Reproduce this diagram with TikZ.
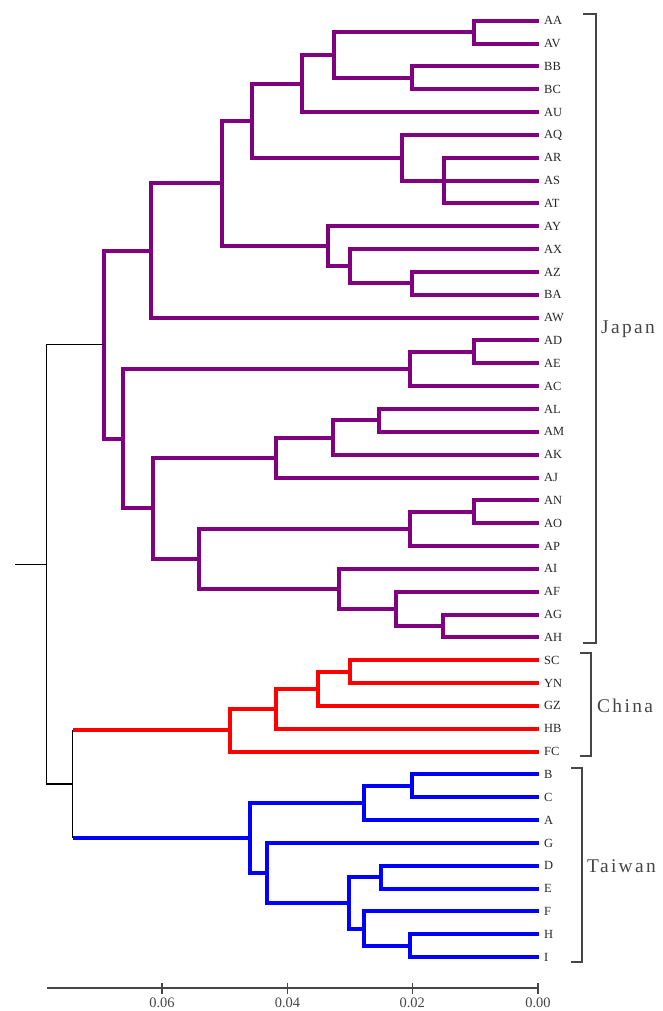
\documentclass[tikz,border=0pt]{standalone}
\usepackage{fontspec}
\setmainfont{Liberation Serif}
\newfontfamily\grpfont[LetterSpace=12]{Liberation Serif}
\definecolor{jpcol}{RGB}{128,0,128}
\definecolor{cncol}{RGB}{255,0,0}
\definecolor{twcol}{RGB}{0,0,255}
\definecolor{inkgray}{RGB}{70,70,70}
\newcommand\yy[1]{20.7+(#1)*22.84}
\tikzset{
  jp/.style={draw=jpcol, line width=4bp},
  cn/.style={draw=cncol, line width=4bp},
  tw/.style={draw=twcol, line width=4bp},
  blk/.style={draw=black, line width=1.5bp},
  brk/.style={draw=inkgray, line width=1.3bp},
  leaflab/.style={anchor=west, inner sep=0pt, text=black!85, font=\fontsize{12.5}{13}\selectfont},
  grplab/.style={anchor=west, inner sep=0pt, text=inkgray, font=\grpfont\fontsize{19.5}{21}\selectfont},
  ticklab/.style={anchor=center, inner sep=0pt, text=inkgray, font=\fontsize{14.5}{16}\selectfont}
}
\begin{document}
\begin{tikzpicture}[x=1bp, y=-1bp]
\useasboundingbox (0,0) rectangle (663,1011);
\fill[white] (0,0) rectangle (663,1011);

% leaf tips and labels
\foreach \n [count=\i from 0] in {AA,AV,BB,BC,AU,AQ,AR,AS,AT,AY,AX,AZ,BA,AW,AD,AE,AC,AL,AM,AK,AJ,AN,AO,AP,AI,AF,AG,AH,SC,YN,GZ,HB,FC,B,C,A,G,D,E,F,H,I}{
  \coordinate (t\n) at (539,{\yy{\i}});
  \node[leaflab] (l\n) at (544,{\yy{\i}}) {\n};
}

% internal nodes: Japan
\coordinate (nAAAV) at (474.4,{\yy{0.5}});
\coordinate (nBBBC) at (412.3,{\yy{2.5}});
\coordinate (nA1)   at (334.0,{\yy{1.5}});
\coordinate (nAU)   at (302.3,{\yy{2.75}});
\coordinate (nARAT) at (444.0,{\yy{7}});
\coordinate (nAQ)   at (401.7,{\yy{6}});
\coordinate (nA3)   at (252.4,{\yy{4.375}});
\coordinate (nAZBA) at (412.3,{\yy{11.5}});
\coordinate (nAX)   at (350.0,{\yy{10.75}});
\coordinate (nAY)   at (327.7,{\yy{9.875}});
\coordinate (nA4)   at (222.0,{\yy{7.125}});
\coordinate (nAW)   at (151.0,{\yy{10.0625}});
\coordinate (nADAE) at (474.4,{\yy{14.5}});
\coordinate (nAC)   at (410.0,{\yy{15.25}});
\coordinate (nALAM) at (379.3,{\yy{17.5}});
\coordinate (nAK)   at (332.8,{\yy{18.25}});
\coordinate (nAJ)   at (275.7,{\yy{19.125}});
\coordinate (nANAO) at (474.4,{\yy{21.5}});
\coordinate (nAP)   at (410.0,{\yy{22.25}});
\coordinate (nAGAH) at (443.0,{\yy{26.5}});
\coordinate (nAF)   at (396.2,{\yy{25.75}});
\coordinate (nAI)   at (339.1,{\yy{24.875}});
\coordinate (nA6)   at (198.7,{\yy{23.5625}});
\coordinate (nA7)   at (153.0,{\yy{21.34375}});
\coordinate (nA8)   at (122.6,{\yy{18.296875}});
\coordinate (nJP)   at (103.5,{\yy{14.1796875}});
% China
\coordinate (nSCYN) at (350.0,{\yy{28.5}});
\coordinate (nGZ)   at (318.0,{\yy{29.25}});
\coordinate (nHB)   at (275.7,{\yy{30.125}});
\coordinate (nFC)   at (230.4,{\yy{31.0625}});
% Taiwan
\coordinate (nBC)   at (412.3,{\yy{33.5}});
\coordinate (nA)    at (363.6,{\yy{34.25}});
\coordinate (nDE)   at (380.5,{\yy{37.5}});
\coordinate (nHI)   at (410.0,{\yy{40.5}});
\coordinate (nF)    at (363.6,{\yy{39.75}});
\coordinate (nDF)   at (348.8,{\yy{38.625}});
\coordinate (nG)    at (267.2,{\yy{37.3125}});
\coordinate (nTW)   at (250.3,{\yy{35.78125}});
% China + Taiwan, and the root
\coordinate (nCT)   at (72.7,{(\yy{31.0625}+\yy{35.78125})/2});
\coordinate (cCN)   at (nCT |- nFC);
\coordinate (cTW)   at (nCT |- nTW);
\coordinate (root)  at (46.5,{(\yy{14.1796875}+(\yy{31.0625}+\yy{35.78125})/2)/2});
\coordinate (rstub) at (15,0 |- root);

% Japan clade
\draw[jp] (nAAAV) |- (tAA);  \draw[jp] (nAAAV) |- (tAV);
\draw[jp] (nBBBC) |- (tBB);  \draw[jp] (nBBBC) |- (tBC);
\draw[jp] (nA1) |- (nAAAV);  \draw[jp] (nA1) |- (nBBBC);
\draw[jp] (nAU) |- (nA1);    \draw[jp] (nAU) |- (tAU);
\draw[jp] (nARAT) |- (tAR);  \draw[jp] (nARAT) |- (tAT);  \draw[jp] (nARAT) -- (tAS);
\draw[jp] (nAQ) |- (tAQ);    \draw[jp] (nAQ) |- (nARAT);
\draw[jp] (nA3) |- (nAU);    \draw[jp] (nA3) |- (nAQ);
\draw[jp] (nAZBA) |- (tAZ);  \draw[jp] (nAZBA) |- (tBA);
\draw[jp] (nAX) |- (tAX);    \draw[jp] (nAX) |- (nAZBA);
\draw[jp] (nAY) |- (tAY);    \draw[jp] (nAY) |- (nAX);
\draw[jp] (nA4) |- (nA3);    \draw[jp] (nA4) |- (nAY);
\draw[jp] (nAW) |- (nA4);    \draw[jp] (nAW) |- (tAW);
\draw[jp] (nADAE) |- (tAD);  \draw[jp] (nADAE) |- (tAE);
\draw[jp] (nAC) |- (nADAE);  \draw[jp] (nAC) |- (tAC);
\draw[jp] (nALAM) |- (tAL);  \draw[jp] (nALAM) |- (tAM);
\draw[jp] (nAK) |- (nALAM);  \draw[jp] (nAK) |- (tAK);
\draw[jp] (nAJ) |- (nAK);    \draw[jp] (nAJ) |- (tAJ);
\draw[jp] (nANAO) |- (tAN);  \draw[jp] (nANAO) |- (tAO);
\draw[jp] (nAP) |- (nANAO);  \draw[jp] (nAP) |- (tAP);
\draw[jp] (nAGAH) |- (tAG);  \draw[jp] (nAGAH) |- (tAH);
\draw[jp] (nAF) |- (tAF);    \draw[jp] (nAF) |- (nAGAH);
\draw[jp] (nAI) |- (tAI);    \draw[jp] (nAI) |- (nAF);
\draw[jp] (nA6) |- (nAP);    \draw[jp] (nA6) |- (nAI);
\draw[jp] (nA7) |- (nAJ);    \draw[jp] (nA7) |- (nA6);
\draw[jp] (nA8) |- (nAC);    \draw[jp] (nA8) |- (nA7);
\draw[jp] (nJP) |- (nAW);    \draw[jp] (nJP) |- (nA8);

% China clade
\draw[cn] (nSCYN) |- (tSC); \draw[cn] (nSCYN) |- (tYN);
\draw[cn] (nGZ) |- (nSCYN); \draw[cn] (nGZ) |- (tGZ);
\draw[cn] (nHB) |- (nGZ);   \draw[cn] (nHB) |- (tHB);
\draw[cn] (nFC) |- (nHB);   \draw[cn] (nFC) |- (tFC);

% Taiwan clade
\draw[tw] (nBC) |- (tB);  \draw[tw] (nBC) |- (tC);
\draw[tw] (nA) |- (nBC);  \draw[tw] (nA) |- (tA);
\draw[tw] (nDE) |- (tD);  \draw[tw] (nDE) |- (tE);
\draw[tw] (nHI) |- (tH);  \draw[tw] (nHI) |- (tI);
\draw[tw] (nF) |- (tF);   \draw[tw] (nF) |- (nHI);
\draw[tw] (nDF) |- (nDE); \draw[tw] (nDF) |- (nF);
\draw[tw] (nG) |- (tG);   \draw[tw] (nG) |- (nDF);
\draw[tw] (nTW) |- (nA);  \draw[tw] (nTW) |- (nG);

% deep branches
\draw[cn] (cCN) -- (nFC);
\draw[tw] (cTW) -- (nTW);
\draw[blk] (cCN) -- (cTW);
\draw[blk] (root) |- (nJP);
\draw[blk] (root) |- (nCT);
\draw[blk] (rstub) -- (root);

% group brackets
\coordinate (jb1) at (583,14);  \coordinate (jb2) at (596,14);
\coordinate (jb3) at (596,643); \coordinate (jb4) at (583,643);
\draw[brk] (jb1) -- (jb2) -- (jb3) -- (jb4);
\coordinate (cb1) at (580,653); \coordinate (cb2) at (591,653);
\coordinate (cb3) at (591,756); \coordinate (cb4) at (580,756);
\draw[brk] (cb1) -- (cb2) -- (cb3) -- (cb4);
\coordinate (tb1) at (571,768); \coordinate (tb2) at (582,768);
\coordinate (tb3) at (582,962); \coordinate (tb4) at (571,962);
\draw[brk] (tb1) -- (tb2) -- (tb3) -- (tb4);
\node[grplab] (gJP) at (601,329) {Japan};
\node[grplab] (gCN) at (597,706) {China};
\node[grplab] (gTW) at (587,866) {Taiwan};

% distance scale
\coordinate (ax0) at (46.5,988);
\coordinate (ax1) at (539,988);
\draw[draw=inkgray, line width=1.4bp] (ax0) -- (ax1);
\foreach \v/\x [count=\k] in {0.06/162,0.04/287.5,0.02/412.3,0.00/538}{
  \coordinate (tk\k) at (\x,983);
  \draw[draw=inkgray, line width=1.3bp] (tk\k) -- ++(0,11);
  \node[ticklab] (tl\k) at (\x,1002.5) {\v};
}
\end{tikzpicture}
\end{document}
